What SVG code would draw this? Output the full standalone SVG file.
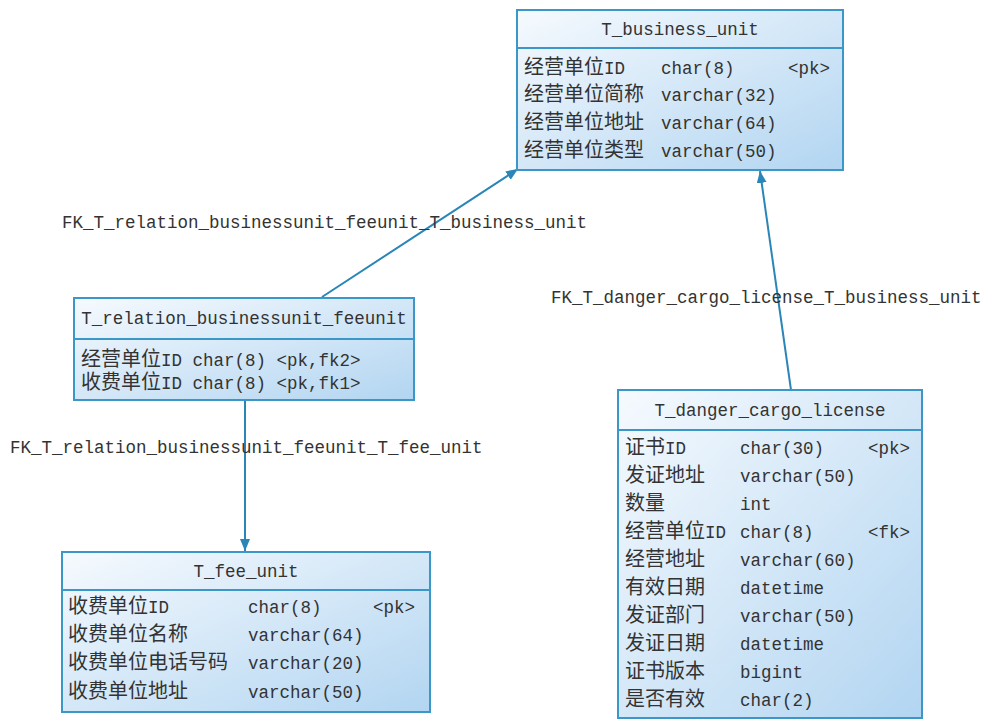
<svg xmlns="http://www.w3.org/2000/svg" width="988" height="720" viewBox="0 0 988 720">
<defs>
<linearGradient id="g" x1="0" y1="0" x2="1" y2="1">
<stop offset="0" stop-color="#f6fafe"/>
<stop offset="1" stop-color="#b2d5f1"/>
</linearGradient>
<marker id="arr" viewBox="0 0 12 10" refX="12" refY="5" markerWidth="12" markerHeight="10" markerUnits="userSpaceOnUse" orient="auto">
<path d="M0,0 L12,5 L0,10 Z" fill="#2a86b6"/>
</marker>
</defs>
<style>
rect.t{fill:url(#g);stroke:#3c97c9;stroke-width:2}
line.h{stroke:#3c97c9;stroke-width:2}
text{font-family:"Liberation Mono","Noto Sans CJK SC",monospace;font-size:17.5px;fill:#333}
tspan.c{font-size:20px}
.ttl{text-anchor:middle}
.con{stroke:#2a86b6;stroke-width:2;fill:none;marker-end:url(#arr)}
</style>
<rect width="988" height="720" fill="#ffffff"/>
<g id="connectors">
<line class="con" x1="322" y1="297" x2="518" y2="169"/>
<line class="con" x1="245" y1="400" x2="245" y2="551"/>
<line class="con" x1="791" y1="390" x2="760" y2="171"/>
<text x="62" y="228">FK_T_relation_businessunit_feeunit_T_business_unit</text>
<text x="10" y="453">FK_T_relation_businessunit_feeunit_T_fee_unit</text>
<text x="551" y="303">FK_T_danger_cargo_license_T_business_unit</text>
</g>
<g id="T_business_unit">
<rect class="t" x="517" y="10" width="326" height="160"/>
<line class="h" x1="517" y1="48" x2="843" y2="48"/>
<text class="ttl" x="680" y="35">T_business_unit</text>
<text x="524" y="74"><tspan class="c">经营单位</tspan>ID</text>
<text x="661" y="74">char(8)</text>
<text x="788" y="74">&lt;pk&gt;</text>
<text x="524" y="101"><tspan class="c">经营单位简称</tspan></text>
<text x="661" y="101">varchar(32)</text>
<text x="524" y="129"><tspan class="c">经营单位地址</tspan></text>
<text x="661" y="129">varchar(64)</text>
<text x="524" y="157"><tspan class="c">经营单位类型</tspan></text>
<text x="661" y="157">varchar(50)</text>
</g>
<g id="T_relation_businessunit_feeunit">
<rect class="t" x="74" y="298" width="340" height="102"/>
<line class="h" x1="74" y1="339" x2="414" y2="339"/>
<text class="ttl" x="244" y="324">T_relation_businessunit_feeunit</text>
<text x="81" y="366"><tspan class="c">经营单位</tspan>ID char(8) &lt;pk,fk2&gt;</text>
<text x="81" y="389"><tspan class="c">收费单位</tspan>ID char(8) &lt;pk,fk1&gt;</text>
</g>
<g id="T_fee_unit">
<rect class="t" x="62" y="552" width="368" height="160"/>
<line class="h" x1="62" y1="590" x2="430" y2="590"/>
<text class="ttl" x="246" y="577">T_fee_unit</text>
<text x="68" y="613"><tspan class="c">收费单位</tspan>ID</text>
<text x="248" y="613">char(8)</text>
<text x="373" y="613">&lt;pk&gt;</text>
<text x="68" y="641"><tspan class="c">收费单位名称</tspan></text>
<text x="248" y="641">varchar(64)</text>
<text x="68" y="669"><tspan class="c">收费单位电话号码</tspan></text>
<text x="248" y="669">varchar(20)</text>
<text x="68" y="698"><tspan class="c">收费单位地址</tspan></text>
<text x="248" y="698">varchar(50)</text>
</g>
<g id="T_danger_cargo_license">
<rect class="t" x="618" y="390" width="304" height="328"/>
<line class="h" x1="618" y1="430" x2="922" y2="430"/>
<text class="ttl" x="770" y="416">T_danger_cargo_license</text>
<text x="625" y="454"><tspan class="c">证书</tspan>ID</text>
<text x="740" y="454">char(30)</text>
<text x="868" y="454">&lt;pk&gt;</text>
<text x="625" y="482"><tspan class="c">发证地址</tspan></text>
<text x="740" y="482">varchar(50)</text>
<text x="625" y="510"><tspan class="c">数量</tspan></text>
<text x="740" y="510">int</text>
<text x="625" y="538"><tspan class="c">经营单位</tspan>ID</text>
<text x="740" y="538">char(8)</text>
<text x="868" y="538">&lt;fk&gt;</text>
<text x="625" y="566"><tspan class="c">经营地址</tspan></text>
<text x="740" y="566">varchar(60)</text>
<text x="625" y="594"><tspan class="c">有效日期</tspan></text>
<text x="740" y="594">datetime</text>
<text x="625" y="622"><tspan class="c">发证部门</tspan></text>
<text x="740" y="622">varchar(50)</text>
<text x="625" y="650"><tspan class="c">发证日期</tspan></text>
<text x="740" y="650">datetime</text>
<text x="625" y="678"><tspan class="c">证书版本</tspan></text>
<text x="740" y="678">bigint</text>
<text x="625" y="706"><tspan class="c">是否有效</tspan></text>
<text x="740" y="706">char(2)</text>
</g>
</svg>
